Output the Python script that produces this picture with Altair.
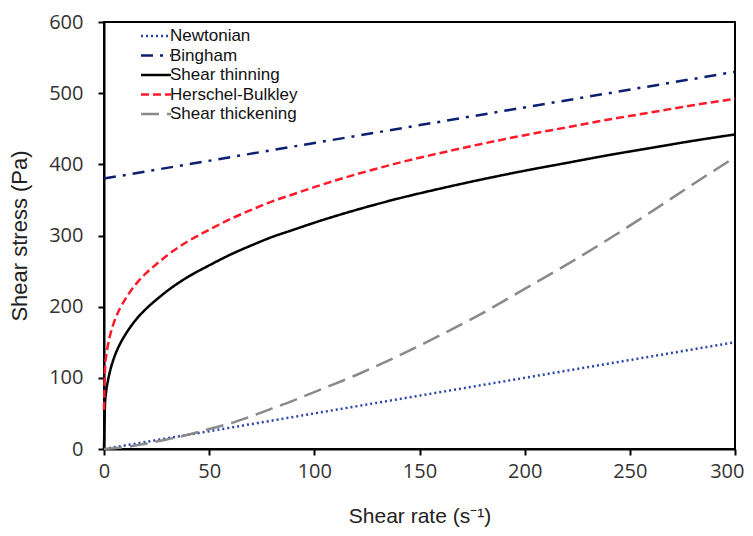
import altair as alt
import pandas as pd

models = ["Newtonian", "Bingham", "Shear thinning", "Herschel-Bulkley", "Shear thickening"]
colors = ["#2a45a8", "#0d1f70", "#000000", "#ff1a2a", "#8a8a8a"]
dashes = [[2, 3], [12, 7, 3, 7], [1, 0], [8, 4], [18, 8]]

x_lin = [0, 300]
newtonian = [0, 150]
bingham = [380, 530]

x_thin = [0, 0.5, 1, 2, 3, 5, 7.5, 10, 15, 20, 25, 30, 40, 50, 60, 70, 80, 90, 100,
          120, 140, 160, 180, 200, 220, 240, 260, 280, 300]
shear_thinning = [0, 65, 80, 98, 111, 130, 147, 160, 181, 197, 210, 222, 242, 258, 273,
                  286, 298, 308, 318, 336, 352, 366, 379, 391, 402, 413, 423, 433, 442]
herschel = [55, 115, 130, 148, 161, 180, 197, 210, 231, 247, 260, 272, 292, 308, 323,
            336, 348, 358, 368, 386, 402, 416, 429, 441, 452, 463, 473, 483, 492]

x_thick = [0, 10, 20, 30, 40, 50, 60, 70, 80, 90, 100, 120, 140, 160, 180, 200, 220,
           240, 260, 280, 300]
shear_thickening = [0, 2.5, 7.5, 13.5, 20, 28, 36, 46, 57, 68, 80, 104, 131, 160, 191,
                    225, 259, 295, 333, 372, 410]

rows = []
for xs, ys, m in [(x_lin, newtonian, "Newtonian"), (x_lin, bingham, "Bingham"),
                  (x_thin, shear_thinning, "Shear thinning"),
                  (x_thin, herschel, "Herschel-Bulkley"),
                  (x_thick, shear_thickening, "Shear thickening")]:
    for i, (a, b) in enumerate(zip(xs, ys)):
        rows.append({"rate": a, "stress": b, "model": m, "order": i})
df = pd.DataFrame(rows)

x_axis = alt.Axis(
    title="Shear rate (s⁻¹)", values=[0, 50, 100, 150, 200, 250, 300],
    labelAlign={"condition": {"test": "datum.value >= 300", "value": "right"}, "value": "center"},
    labelOffset={"condition": {"test": "datum.value >= 300", "value": 9}, "value": 0},
)

chart = alt.Chart(df).mark_line(strokeWidth=2.5, interpolate="monotone", strokeCap="butt").encode(
    x=alt.X("rate:Q", scale=alt.Scale(domain=[0, 300], nice=False), axis=x_axis),
    y=alt.Y("stress:Q", scale=alt.Scale(domain=[0, 600], nice=False),
            axis=alt.Axis(title="Shear stress (Pa)", values=[0, 100, 200, 300, 400, 500, 600])),
    color=alt.Color("model:N", scale=alt.Scale(domain=models, range=colors),
                    sort=models, title=None,
                    legend=alt.Legend(orient="none", legendX=43, legendY=5,
                                      symbolType="M-2,0H2", symbolSize=225,
                                      symbolStrokeWidth=2.5, labelOffset=5,
                                      labelFontSize=17, labelFont="Liberation Sans",
                                      labelColor="#111111", rowPadding=2.5,
                                      padding=0)),
    strokeDash=alt.StrokeDash("model:N", scale=alt.Scale(domain=models, range=dashes),
                              sort=models, title=None, legend=None),
    detail="model:N",
    order="order:Q",
).properties(
    width=631, height=427,
    autosize=alt.AutoSizeParams(type="none"),
    padding={"left": 96, "top": 14, "right": 10, "bottom": 79},
).configure_view(
    stroke="#000000", strokeWidth=2
).configure_axis(
    grid=False, domainColor="#000000", domainWidth=2, tickColor="#000000",
    tickWidth=2, tickSize=6, labelFont="Open Sans", labelFontSize=20,
    labelColor="#333333", titleFont="Liberation Sans",
    titleFontWeight="normal", titleColor="#222222"
).configure_axisY(
    labelPadding=15, titlePadding=17, titleFontSize=22
).configure_axisX(
    labelPadding=6, titlePadding=24, labelFlush=False, titleFontSize=21
)

chart.save("out.html", embed_options={"renderer": "svg", "actions": False})
